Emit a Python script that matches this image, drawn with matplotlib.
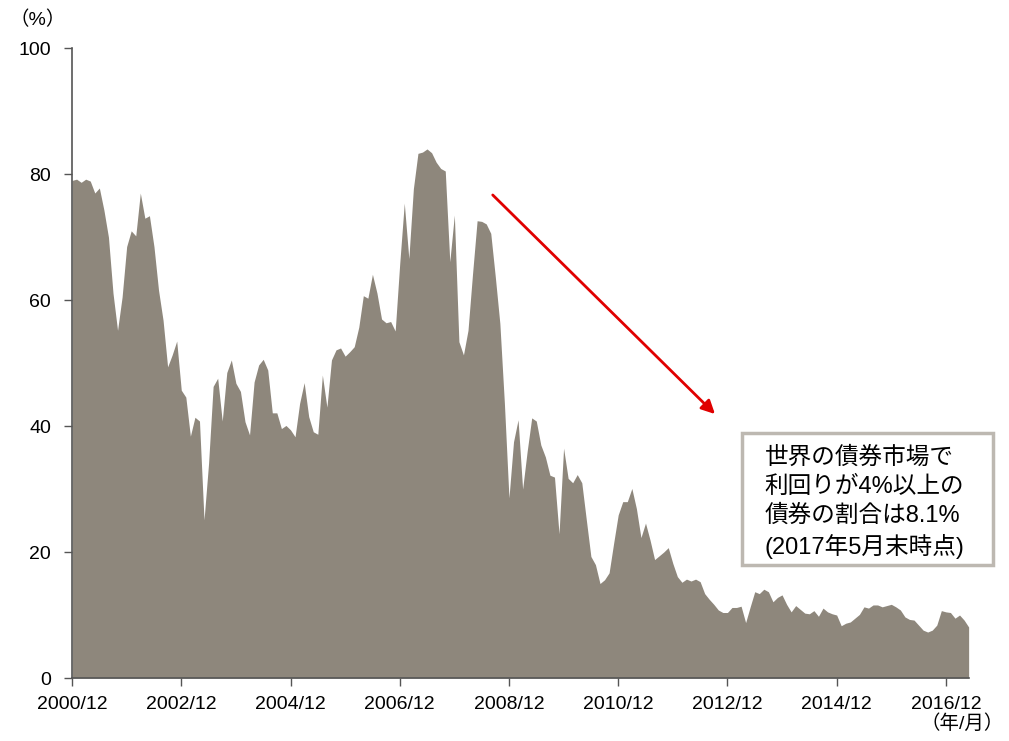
import numpy as np
import matplotlib
matplotlib.use("Agg")
import matplotlib.pyplot as plt
from matplotlib.patches import Rectangle

plt.rcParams['font.family'] = ['Liberation Sans', 'Noto Sans CJK JP']

# share of world bonds yielding 4% or more, monthly from 2000/12 to 2017/05 (%)
share = [
    79.0, 79.2, 78.7, 79.2, 78.9, 77.0, 77.8, 74.3, 70.0, 61.1,
    55.2, 60.5, 68.5, 71.0, 70.2, 77.0, 73.0, 73.4, 68.5, 61.6,
    56.8, 49.4, 51.3, 53.5, 45.7, 44.6, 38.4, 41.4, 40.8, 25.1,
    34.1, 46.3, 47.6, 40.8, 48.5, 50.5, 46.8, 45.5, 40.7, 38.6,
    47.0, 49.7, 50.6, 48.9, 42.1, 42.1, 39.6, 40.1, 39.4, 38.3,
    43.6, 46.9, 41.5, 39.1, 38.7, 48.1, 43.0, 50.5, 52.1, 52.4,
    51.1, 51.8, 52.6, 55.7, 60.7, 60.3, 64.1, 61.1, 57.0, 56.4,
    56.6, 55.1, 65.8, 75.4, 66.6, 77.7, 83.3, 83.5, 84.0, 83.4,
    81.9, 80.9, 80.5, 66.1, 73.5, 53.4, 51.3, 55.2, 64.2, 72.6,
    72.5, 72.1, 70.6, 63.7, 56.3, 43.6, 28.6, 37.5, 41.0, 30.0,
    36.0, 41.3, 40.8, 37.0, 35.1, 32.2, 31.9, 22.9, 36.5, 31.7,
    31.0, 32.3, 31.0, 25.1, 19.3, 18.0, 15.0, 15.6, 16.7, 21.4,
    25.9, 28.0, 28.0, 30.1, 26.9, 22.3, 24.6, 21.9, 18.8, 19.4,
    20.0, 20.7, 18.2, 16.1, 15.2, 15.7, 15.4, 15.7, 15.3, 13.4,
    12.5, 11.7, 10.8, 10.4, 10.4, 11.2, 11.2, 11.4, 8.8, 11.3,
    13.7, 13.4, 14.1, 13.7, 12.1, 12.8, 13.2, 11.7, 10.5, 11.5,
    10.9, 10.3, 10.2, 10.7, 9.8, 11.1, 10.5, 10.2, 10.0, 8.3,
    8.7, 8.9, 9.5, 10.1, 11.3, 11.1, 11.6, 11.6, 11.3, 11.5,
    11.7, 11.3, 10.8, 9.7, 9.3, 9.2, 8.4, 7.6, 7.3, 7.6,
    8.4, 10.7, 10.5, 10.4, 9.5, 10.0, 9.2, 8.1,
]
tick_pos = [0, 24, 48, 72, 96, 120, 144, 168, 192]
tick_labels = ['2000/12', '2002/12', '2004/12', '2006/12', '2008/12',
               '2010/12', '2012/12', '2014/12', '2016/12']
y_ticks = [0, 20, 40, 60, 80, 100]
note = '世界の債券市場で\n利回りが4%以上の\n債券の割合は8.1%\n(2017年5月末時点)'

months = np.arange(len(share))

fig = plt.figure(figsize=(10.09, 7.41), dpi=100)
ax = fig.add_axes([0.0714, 0.085, 0.8886, 0.85])

ax.fill_between(months, share, 0, color='#8E877C', linewidth=0)

ax.set_xlim(0, len(share) - 1)
ax.set_ylim(0, 100)
ax.set_xticks(tick_pos)
ax.set_xticklabels(tick_labels)
ax.set_yticks(y_ticks)
ax.tick_params(axis='both', labelsize=14, length=6, width=1, color='#555555',
               direction='out')
ax.tick_params(axis='y', pad=9)
ax.tick_params(axis='x', pad=7)
for s in ['top', 'right']:
    ax.spines[s].set_visible(False)
for s in ['left', 'bottom']:
    ax.spines[s].set_color('#555555')
    ax.spines[s].set_linewidth(1.2)

# red trend arrow
ax.annotate('', xy=(141.7, 41.6), xytext=(92.0, 77.0),
            arrowprops=dict(arrowstyle='-|>', color='#E00000', lw=2,
                            mutation_scale=20))

fig.text(0.009, 0.973, '（%）', fontsize=14, ha='left', va='center')
fig.text(0.995, 0.024, '（年/月）', fontsize=14, ha='right', va='center')

fig.patches.append(Rectangle((0.7354, 0.2375), 0.2488, 0.178,
                             transform=fig.transFigure, fill=False,
                             edgecolor='#BDB8B1', linewidth=2.5))
fig.text(0.758, 0.321, note, fontsize=17, ha='left', va='center',
         linespacing=1.38)

fig.savefig('out.png', dpi=100)
